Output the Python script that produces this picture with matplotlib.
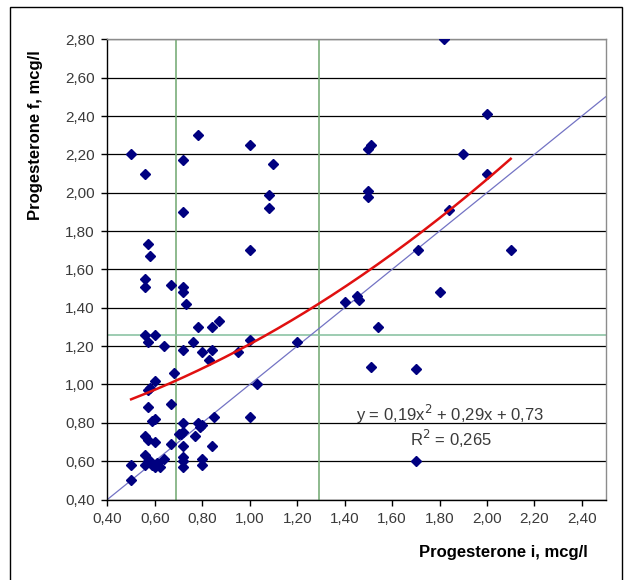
"""Scatter of progesterone before/after with quadratic trend."""

import matplotlib
matplotlib.use("Agg")
import matplotlib.pyplot as plt
import numpy as np
from matplotlib.patches import Rectangle
from matplotlib.ticker import FuncFormatter, MultipleLocator

plt.rcParams["font.family"] = ["Liberation Sans", "DejaVu Sans"]

# paired measurements (initial, final), mcg/l
prog_i = [
    0.50, 0.56, 0.57, 0.58, 0.56, 0.56, 0.56, 0.57, 0.60, 0.64,
    0.60, 0.58, 0.57, 0.68, 0.67, 0.72, 0.72, 0.78, 0.72, 0.72,
    0.73, 0.76, 0.78, 0.72, 0.80, 0.84, 0.87, 0.84, 0.83, 0.95,
    1.00, 1.00, 1.00, 1.00, 1.03, 1.08, 1.08, 1.10, 1.20, 1.40,
    1.45, 1.46, 1.50, 1.51, 1.50, 1.50, 1.54, 1.51, 1.70, 1.71,
    1.70, 1.80, 1.82, 1.84, 1.90, 2.00, 2.00, 2.10,
    0.57, 0.67, 0.59, 0.60, 0.56, 0.57, 0.60, 0.67, 0.70, 0.71,
    0.72, 0.72, 0.72, 0.72, 0.72, 0.72, 0.77, 0.78, 0.80, 0.79,
    0.80, 0.80, 0.84, 0.85, 0.56, 0.56, 0.58, 0.59, 0.60, 0.61,
    0.62, 0.64, 0.50, 0.50, 0.57,
]
prog_f = [
    2.20, 2.10, 1.73, 1.67, 1.55, 1.51, 1.26, 1.22, 1.26, 1.20,
    1.02, 0.98, 0.97, 1.06, 1.52, 2.17, 1.90, 2.30, 1.51, 1.48,
    1.42, 1.22, 1.30, 1.18, 1.17, 1.30, 1.33, 1.18, 1.13, 1.17,
    2.25, 1.70, 1.23, 0.83, 1.00, 1.99, 1.92, 2.15, 1.22, 1.43,
    1.46, 1.44, 2.23, 2.25, 2.01, 1.98, 1.30, 1.09, 1.08, 1.70,
    0.60, 1.48, 2.80, 1.91, 2.20, 2.41, 2.10, 1.70,
    0.88, 0.90, 0.81, 0.82, 0.73, 0.71, 0.70, 0.69, 0.74, 0.74,
    0.80, 0.75, 0.68, 0.62, 0.60, 0.57, 0.73, 0.80, 0.79, 0.78,
    0.61, 0.58, 0.68, 0.83, 0.63, 0.58, 0.60, 0.58, 0.57, 0.59,
    0.57, 0.61, 0.58, 0.50, 0.60,
]

# quadratic trend: y = a*x^2 + b*x + c
trend_coef = [0.19, 0.29, 0.73]
trend_range = [0.50, 2.10]
r_squared = 0.265

# reference cut-offs
cut_i = [0.69, 1.29]
cut_f = 1.26


def comma(v, _pos):
    return f"{v:.2f}".replace(".", ",")


fig = plt.figure(figsize=(6.31, 5.80), dpi=100)
fig.patches.append(Rectangle((10 / 631, -0.01), 612 / 631, 1 - 7 / 580 + 0.01,
                             transform=fig.transFigure, fill=False,
                             edgecolor="black", linewidth=1.0))

ax = fig.add_axes([107.4 / 631, 1 - 499.5 / 580, 498.2 / 631, 460.2 / 580])
ax.set_xlim(0.40, 2.50)
ax.set_ylim(0.40, 2.80)

ax.yaxis.set_major_locator(MultipleLocator(0.2))
ax.set_xticks(np.arange(0.40, 2.41, 0.20))
ax.xaxis.set_major_formatter(FuncFormatter(comma))
ax.yaxis.set_major_formatter(FuncFormatter(comma))
ax.tick_params(direction="out", length=4, width=1, color="black",
               labelsize=11, labelcolor="#3a3a3a", pad=5)

ax.yaxis.grid(True, color="black", linewidth=0.9, zorder=0)
ax.set_axisbelow(True)

for side in ("left", "bottom"):
    ax.spines[side].set_color("black")
    ax.spines[side].set_linewidth(1.0)
for side in ("top", "right"):
    ax.spines[side].set_color("#8c8c8c")
    ax.spines[side].set_linewidth(1.0)

# cut-off lines
for xv in cut_i:
    ax.axvline(xv, color="#7aae7a", linewidth=1.2, zorder=1)
ax.axhline(cut_f, color="#8cc4a4", linewidth=1.2, zorder=1)

# line of identity
ax.plot([0.40, 2.50], [0.40, 2.50], color="#7373c4", linewidth=0.9, zorder=2)

ax.plot(prog_i, prog_f, linestyle="none", marker="D", markersize=5.2,
        color="#000080", zorder=3)

xs = np.linspace(trend_range[0], trend_range[1], 200)
ys = np.polyval(trend_coef, xs)
ax.plot(xs, ys, color="#e01010", linewidth=1.8, zorder=4)

eq = (f"y = {comma(trend_coef[0], 0)}x$^2$ + {comma(trend_coef[1], 0)}x"
      f" + {comma(trend_coef[2], 0)}")
ax.text(1.846, 0.846, eq, ha="center", va="center", fontsize=12, color="#3a3a3a")
ax.text(1.846, 0.716, f"R$^2$ = {r_squared:.3f}".replace(".", ","),
        ha="center", va="center", fontsize=12, color="#3a3a3a")

fig.text(503 / 631, 1 - 553 / 580, "Progesterone i, mcg/l", ha="center",
         va="center", fontsize=12, fontweight="bold")
fig.text(35.5 / 631, 1 - 135 / 580, "Progesterone f, mcg/l", ha="center",
         va="center", rotation=90, fontsize=12, fontweight="bold")

fig.savefig("out.png", dpi=100)
